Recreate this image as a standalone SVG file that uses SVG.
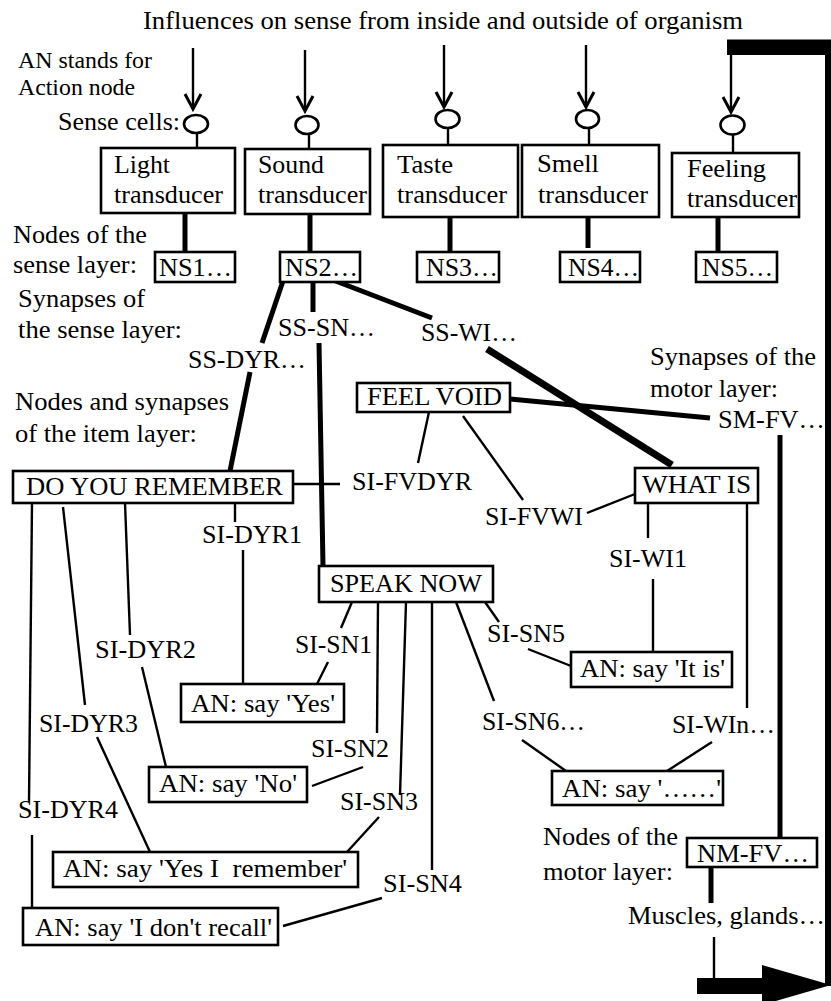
<svg xmlns="http://www.w3.org/2000/svg" width="831" height="1001" viewBox="0 0 831 1001" font-family="Liberation Serif, serif" font-size="25">
<style>
.s{font-size:23px}
.b{fill:#fff;stroke:#000;stroke-width:2.6}
.c{fill:#fff;stroke:#000;stroke-width:2.6}
.thin{stroke:#000;stroke-width:2.4;fill:none}
.thick{stroke:#000;stroke-width:5;fill:none}
.xthick{stroke:#000;stroke-width:7;fill:none}
.ah{stroke:#000;stroke-width:3;fill:none;stroke-linejoin:miter}
</style>
<rect width="831" height="1001" fill="#fff"/>

<g id="labels">
<text x="143" y="29" textLength="600" lengthAdjust="spacingAndGlyphs">Influences on sense from inside and outside of organism</text>
<text class="s" x="18" y="68" textLength="134" lengthAdjust="spacingAndGlyphs">AN stands for</text>
<text class="s" x="18" y="95" textLength="117" lengthAdjust="spacingAndGlyphs">Action node</text>
<text x="58" y="130" textLength="122" lengthAdjust="spacingAndGlyphs">Sense cells:</text>
<text x="13" y="243" textLength="134" lengthAdjust="spacingAndGlyphs">Nodes of the</text>
<text x="13" y="273" textLength="124" lengthAdjust="spacingAndGlyphs">sense layer:</text>
<text x="18" y="307" textLength="127" lengthAdjust="spacingAndGlyphs">Synapses of</text>
<text x="18" y="338" textLength="164" lengthAdjust="spacingAndGlyphs">the sense layer:</text>
<text x="15" y="410" textLength="214" lengthAdjust="spacingAndGlyphs">Nodes and synapses</text>
<text x="15" y="442" textLength="182" lengthAdjust="spacingAndGlyphs">of the item layer:</text>
<text x="650" y="365" textLength="166" lengthAdjust="spacingAndGlyphs">Synapses of the</text>
<text x="650" y="397" textLength="128" lengthAdjust="spacingAndGlyphs">motor layer:</text>
<text x="543" y="845" textLength="135" lengthAdjust="spacingAndGlyphs">Nodes of the</text>
<text x="543" y="880" textLength="130" lengthAdjust="spacingAndGlyphs">motor layer:</text>
</g>

<g id="connectors">
<line class="thin" x1="193" y1="48" x2="193" y2="109"/>
<polyline class="ah" points="185,94 193,109 201,94"/>
<line class="thin" x1="305" y1="50" x2="305" y2="111"/>
<polyline class="ah" points="297,96 305,111 313,96"/>
<line class="thin" x1="444" y1="45" x2="444" y2="107"/>
<polyline class="ah" points="436,92 444,107 452,92"/>
<line class="thin" x1="586" y1="45" x2="586" y2="107"/>
<polyline class="ah" points="578,92 586,107 594,92"/>
<line class="thin" x1="731" y1="54" x2="731" y2="112"/>
<polyline class="ah" points="723,97 731,112 739,97"/>
<line class="thin" x1="197" y1="133" x2="197" y2="148"/>
<line class="thin" x1="309" y1="134" x2="309" y2="149"/>
<line class="thin" x1="448" y1="128" x2="448" y2="145"/>
<line class="thin" x1="589" y1="128" x2="589" y2="145"/>
<line class="thin" x1="733" y1="134" x2="733" y2="153"/>
<line class="thick" x1="185" y1="213" x2="185" y2="252"/>
<line class="thick" x1="310" y1="214" x2="310" y2="252"/>
<line class="thick" x1="450" y1="217" x2="450" y2="252"/>
<line class="thick" x1="588" y1="214" x2="588" y2="248"/>
<line class="thick" x1="718" y1="217" x2="718" y2="252"/>
<line class="thick" x1="283" y1="281" x2="262" y2="343"/>
<line class="thick" x1="250" y1="372" x2="230" y2="471"/>
<line class="thick" x1="313" y1="282" x2="313" y2="312"/>
<line class="thick" x1="319" y1="343" x2="323" y2="566"/>
<line class="thick" x1="333" y1="280" x2="432" y2="318"/>
<line class="xthick" x1="487" y1="349" x2="672" y2="465"/>
<line class="thick" x1="510" y1="399" x2="710" y2="418"/>
<line class="thick" x1="780" y1="435" x2="780" y2="838"/>
<line class="thick" x1="711" y1="867" x2="711" y2="903"/>
<line class="thin" x1="714" y1="937" x2="714" y2="979"/>
<line class="thin" x1="429" y1="412" x2="418" y2="463"/>
<line class="thin" x1="463" y1="416" x2="523" y2="500"/>
<line class="thin" x1="587" y1="513" x2="635" y2="494"/>
<line class="thin" x1="293" y1="484" x2="340" y2="484"/>
<line class="thin" x1="235" y1="503" x2="235" y2="522"/>
<line class="thin" x1="243" y1="550" x2="243" y2="684"/>
<line class="thin" x1="32" y1="503" x2="29" y2="802"/>
<line class="thin" x1="32" y1="835" x2="32" y2="908"/>
<line class="thin" x1="63" y1="507" x2="85" y2="705"/>
<line class="thin" x1="97" y1="737" x2="150" y2="852"/>
<line class="thin" x1="125" y1="503" x2="130" y2="635"/>
<line class="thin" x1="142" y1="667" x2="166" y2="767"/>
<line class="thin" x1="648" y1="503" x2="648" y2="538"/>
<line class="thin" x1="653" y1="579" x2="653" y2="652"/>
<line class="thin" x1="747" y1="503" x2="747" y2="708"/>
<line class="thin" x1="712" y1="742" x2="667" y2="771"/>
<line class="thin" x1="352" y1="602" x2="341" y2="628"/>
<line class="thin" x1="328" y1="662" x2="317" y2="684"/>
<line class="thin" x1="378" y1="602" x2="377" y2="733"/>
<line class="thin" x1="363" y1="767" x2="312" y2="786"/>
<line class="thin" x1="406" y1="602" x2="400" y2="795"/>
<line class="thin" x1="379" y1="817" x2="347" y2="852"/>
<line class="thin" x1="432" y1="602" x2="432" y2="870"/>
<line class="thin" x1="382" y1="898" x2="283" y2="926"/>
<line class="thin" x1="485" y1="602" x2="499" y2="622"/>
<line class="thin" x1="528" y1="649" x2="571" y2="666"/>
<line class="thin" x1="456" y1="602" x2="494" y2="701"/>
<line class="thin" x1="522" y1="740" x2="566" y2="771"/>
<rect x="727" y="39.5" width="104" height="15.5" fill="#000"/>
<rect x="825" y="40" width="6" height="946" fill="#000"/>
<rect x="697" y="978" width="67" height="16" fill="#000"/>
<polygon points="762,965 831,985 762,1005" fill="#000"/>
</g>

<g id="cell1"><ellipse class="c" cx="196" cy="124" rx="12" ry="9"/></g>
<g id="cell2"><ellipse class="c" cx="307" cy="125" rx="11.5" ry="9"/></g>
<g id="cell3"><ellipse class="c" cx="447.5" cy="119" rx="12" ry="9"/></g>
<g id="cell4"><ellipse class="c" cx="587.5" cy="119" rx="11.5" ry="9"/></g>
<g id="cell5"><ellipse class="c" cx="732.5" cy="125" rx="12" ry="9.5"/></g>

<g id="light"><rect class="b" x="101" y="148" width="134" height="65"/>
<text x="114" y="173" textLength="56" lengthAdjust="spacingAndGlyphs">Light</text>
<text x="114" y="203" textLength="109" lengthAdjust="spacingAndGlyphs">transducer</text></g>
<g id="sound"><rect class="b" x="245" y="149" width="125" height="65"/>
<text x="258" y="173" textLength="66" lengthAdjust="spacingAndGlyphs">Sound</text>
<text x="258" y="203" textLength="109" lengthAdjust="spacingAndGlyphs">transducer</text></g>
<g id="taste"><rect class="b" x="383" y="145" width="135" height="72"/>
<text x="397" y="173" textLength="56" lengthAdjust="spacingAndGlyphs">Taste</text>
<text x="397" y="203" textLength="110" lengthAdjust="spacingAndGlyphs">transducer</text></g>
<g id="smell"><rect class="b" x="522" y="145" width="137" height="72"/>
<text x="537" y="172" textLength="62" lengthAdjust="spacingAndGlyphs">Smell</text>
<text x="538" y="203" textLength="110" lengthAdjust="spacingAndGlyphs">transducer</text></g>
<g id="feeling"><rect class="b" x="672" y="153" width="127" height="64"/>
<text x="687" y="177" textLength="79" lengthAdjust="spacingAndGlyphs">Feeling</text>
<text x="687" y="207" textLength="110" lengthAdjust="spacingAndGlyphs">transducer</text></g>

<g id="ns1"><rect class="b" x="155" y="252" width="80" height="30"/><text x="159" y="276" textLength="73" lengthAdjust="spacingAndGlyphs">NS1…</text></g>
<g id="ns2"><rect class="b" x="280" y="252" width="80" height="30"/><text x="285" y="276" textLength="73" lengthAdjust="spacingAndGlyphs">NS2…</text></g>
<g id="ns3"><rect class="b" x="417" y="252" width="82" height="30"/><text x="426" y="276" textLength="72" lengthAdjust="spacingAndGlyphs">NS3…</text></g>
<g id="ns4"><rect class="b" x="560" y="252" width="80" height="30"/><text x="568" y="276" textLength="71" lengthAdjust="spacingAndGlyphs">NS4…</text></g>
<g id="ns5"><rect class="b" x="696" y="252" width="81" height="30"/><text x="702" y="276" textLength="71" lengthAdjust="spacingAndGlyphs">NS5…</text></g>

<g id="ss-sn"><text x="278" y="336" textLength="97" lengthAdjust="spacingAndGlyphs">SS-SN…</text></g>
<g id="ss-dyr"><text x="188" y="368" textLength="118" lengthAdjust="spacingAndGlyphs">SS-DYR…</text></g>
<g id="ss-wi"><text x="421" y="341" textLength="96" lengthAdjust="spacingAndGlyphs">SS-WI…</text></g>
<g id="sm-fv"><text x="718" y="428" textLength="107" lengthAdjust="spacingAndGlyphs">SM-FV…</text></g>

<g id="feelvoid"><rect class="b" x="357" y="383" width="153" height="29"/><text x="367" y="405" textLength="135" lengthAdjust="spacingAndGlyphs">FEEL VOID</text></g>
<g id="dyr"><rect class="b" x="13" y="471" width="280" height="32"/><text x="26" y="495" textLength="257" lengthAdjust="spacingAndGlyphs">DO YOU REMEMBER</text></g>
<g id="whatis"><rect class="b" x="635" y="468" width="123" height="35"/><text x="642" y="493" textLength="109" lengthAdjust="spacingAndGlyphs">WHAT IS</text></g>
<g id="speaknow"><rect class="b" x="319" y="566" width="174" height="36"/><text x="330" y="592" textLength="152" lengthAdjust="spacingAndGlyphs">SPEAK NOW</text></g>

<g id="si-fvdyr"><text x="352" y="490" textLength="120" lengthAdjust="spacingAndGlyphs">SI-FVDYR</text></g>
<g id="si-fvwi"><text x="485" y="525" textLength="98" lengthAdjust="spacingAndGlyphs">SI-FVWI</text></g>
<g id="si-dyr1"><text x="202" y="543" textLength="100" lengthAdjust="spacingAndGlyphs">SI-DYR1</text></g>
<g id="si-wi1"><text x="609" y="567" textLength="78" lengthAdjust="spacingAndGlyphs">SI-WI1</text></g>
<g id="si-sn5"><text x="487" y="642" textLength="78" lengthAdjust="spacingAndGlyphs">SI-SN5</text></g>
<g id="si-sn1"><text x="295" y="653" textLength="77" lengthAdjust="spacingAndGlyphs">SI-SN1</text></g>
<g id="si-dyr2"><text x="95" y="658" textLength="101" lengthAdjust="spacingAndGlyphs">SI-DYR2</text></g>
<g id="si-sn6"><text x="482" y="730" textLength="103" lengthAdjust="spacingAndGlyphs">SI-SN6…</text></g>
<g id="si-win"><text x="672" y="733" textLength="103" lengthAdjust="spacingAndGlyphs">SI-WIn…</text></g>
<g id="si-dyr3"><text x="39" y="732" textLength="99" lengthAdjust="spacingAndGlyphs">SI-DYR3</text></g>
<g id="si-sn2"><text x="311" y="757" textLength="78" lengthAdjust="spacingAndGlyphs">SI-SN2</text></g>
<g id="si-sn3"><text x="340" y="810" textLength="78" lengthAdjust="spacingAndGlyphs">SI-SN3</text></g>
<g id="si-dyr4"><text x="18" y="818" textLength="100" lengthAdjust="spacingAndGlyphs">SI-DYR4</text></g>
<g id="si-sn4"><text x="383" y="892" textLength="79" lengthAdjust="spacingAndGlyphs">SI-SN4</text></g>

<g id="an-itis"><rect class="b" x="571" y="652" width="161" height="35"/><text x="580" y="677" textLength="145" lengthAdjust="spacingAndGlyphs">AN: say 'It is'</text></g>
<g id="an-yes"><rect class="b" x="181" y="684" width="163" height="38"/><text x="191" y="712" textLength="144" lengthAdjust="spacingAndGlyphs">AN: say 'Yes'</text></g>
<g id="an-no"><rect class="b" x="149" y="767" width="158" height="35"/><text x="159" y="792" textLength="138" lengthAdjust="spacingAndGlyphs">AN: say 'No'</text></g>
<g id="an-dots"><rect class="b" x="552" y="771" width="171" height="34"/><text x="562" y="797" textLength="159" lengthAdjust="spacingAndGlyphs">AN: say '……'</text></g>
<g id="an-yesremember"><rect class="b" x="53" y="852" width="305" height="35"/><text x="63" y="877" textLength="284" lengthAdjust="spacingAndGlyphs" xml:space="preserve" style="white-space:pre">AN: say 'Yes I  remember'</text></g>
<g id="an-dontrecall"><rect class="b" x="23" y="908" width="255" height="37"/><text x="35" y="936" textLength="237" lengthAdjust="spacingAndGlyphs">AN: say 'I don't recall'</text></g>

<g id="nm-fv"><rect class="b" x="687" y="838" width="130" height="29"/><text x="697" y="862" textLength="112" lengthAdjust="spacingAndGlyphs">NM-FV…</text></g>
<g id="muscles"><text x="628" y="924" textLength="197" lengthAdjust="spacingAndGlyphs">Muscles, glands…</text></g>
</svg>
